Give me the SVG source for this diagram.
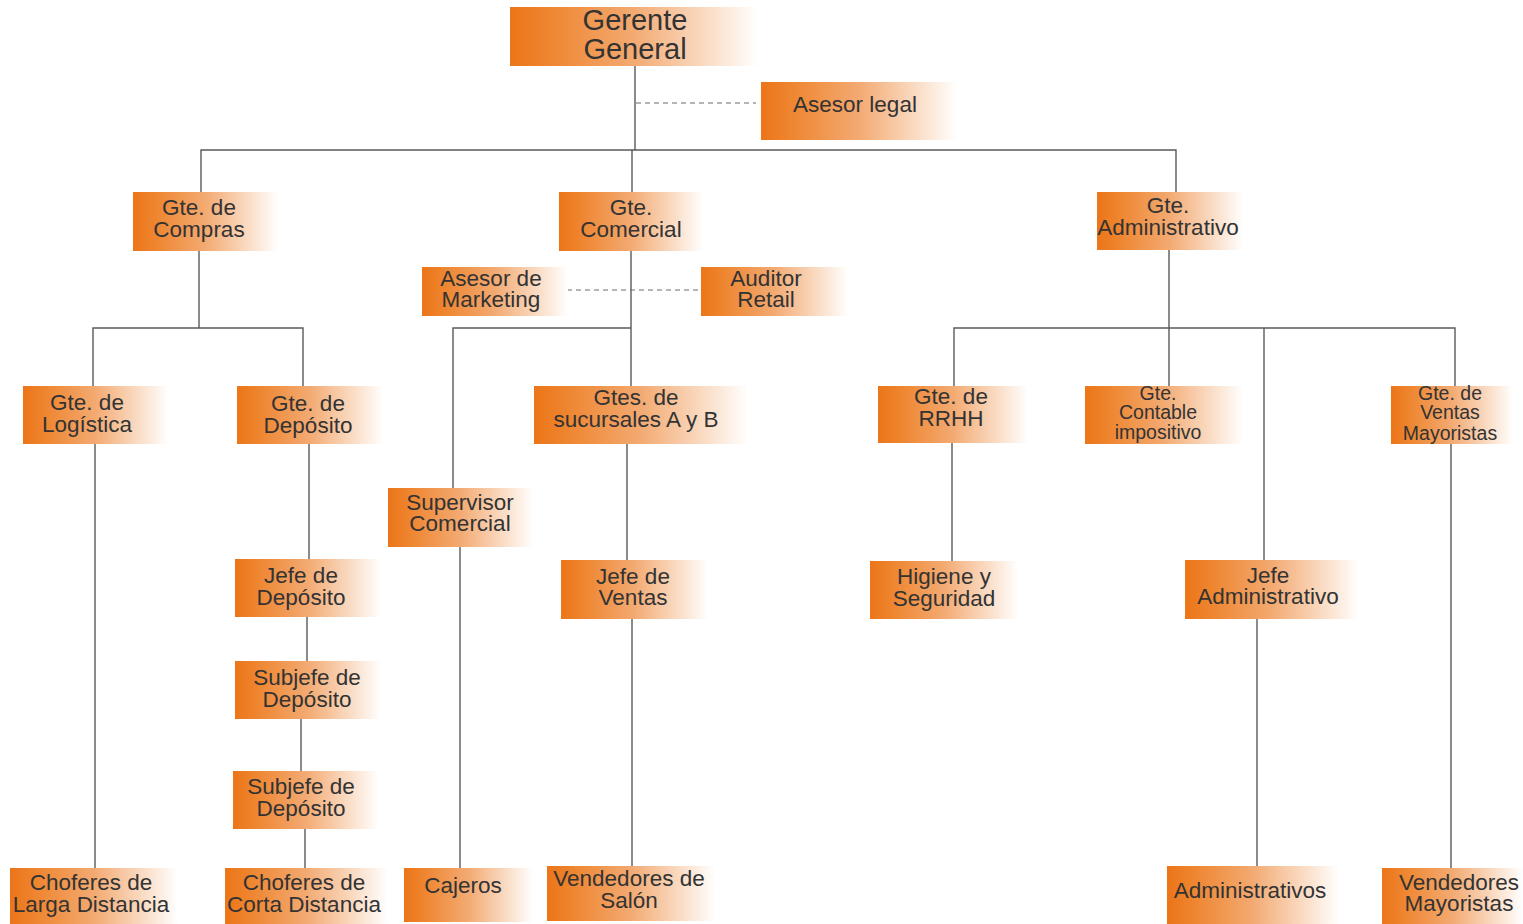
<svg xmlns="http://www.w3.org/2000/svg" width="1523" height="924" viewBox="0 0 1523 924">
  <defs>
    <linearGradient id="boxFill" x1="0" y1="0" x2="1" y2="0">
      <stop offset="0" stop-color="#EC7518"/>
      <stop offset="0.15" stop-color="#EE852F"/>
      <stop offset="0.5" stop-color="#F3AA72"/>
      <stop offset="0.8" stop-color="#FADDC6"/>
      <stop offset="1" stop-color="#FFFFFF"/>
    </linearGradient>
    <style>
      rect.box { fill: url(#boxFill); }
      text { font-family: "Liberation Sans", Arial, sans-serif; fill: #333333; text-anchor: middle; font-size: 22.5px; }
      text.big { font-size: 29px; }
      text.small { font-size: 19.5px; }
      .conn line, .conn polyline { stroke: #5a5a5a; stroke-width: 1.4; fill: none; }
      .conn .dash { stroke: #6a6a6a; stroke-width: 1.2; stroke-dasharray: 5 4; }
    </style>
  </defs>
  <rect width="1523" height="924" fill="#ffffff"/>

  <!-- connectors -->
  <g class="conn">
    <line x1="635" y1="66" x2="635" y2="150"/>
    <line class="dash" x1="636" y1="103" x2="756" y2="103"/>
    <polyline points="201,192 201,150 1176,150 1176,192"/>
    <line x1="632" y1="150" x2="632" y2="192"/>

    <!-- compras branch -->
    <line x1="199" y1="251" x2="199" y2="328"/>
    <polyline points="93,386 93,328 303,328 303,386"/>
    <line x1="95" y1="444" x2="95" y2="868"/>
    <line x1="309" y1="444" x2="309" y2="559"/>
    <line x1="307" y1="617" x2="307" y2="661"/>
    <line x1="301" y1="719" x2="301" y2="771"/>
    <line x1="305" y1="829" x2="305" y2="868"/>

    <!-- comercial branch -->
    <line x1="631" y1="251" x2="631" y2="386"/>
    <line class="dash" x1="567" y1="290" x2="700" y2="290"/>
    <polyline points="453,488 453,328 631,328"/>
    <line x1="460" y1="547" x2="460" y2="868"/>
    <line x1="627" y1="444" x2="627" y2="560"/>
    <line x1="632" y1="619" x2="632" y2="866"/>

    <!-- administrativo branch -->
    <line x1="1169" y1="250" x2="1169" y2="386"/>
    <polyline points="954,386 954,328 1455,328 1455,386"/>
    <line x1="1264" y1="328" x2="1264" y2="560"/>
    <line x1="952" y1="443" x2="952" y2="561"/>
    <line x1="1451" y1="444" x2="1451" y2="868"/>
    <line x1="1257" y1="619" x2="1257" y2="868"/>
  </g>

  <!-- nodes -->
  <g id="gerente-general">
    <rect class="box" x="510" y="7" width="248" height="59"/>
    <text class="big" x="635" y="30">Gerente</text>
    <text class="big" x="635" y="59">General</text>
  </g>
  <g id="asesor-legal">
    <rect class="box" x="761" y="82" width="196" height="58"/>
    <text x="855" y="112">Asesor legal</text>
  </g>

  <g id="gte-compras">
    <rect class="box" x="133" y="192" width="145" height="59"/>
    <text x="199" y="215">Gte. de</text>
    <text x="199" y="237">Compras</text>
  </g>
  <g id="gte-comercial">
    <rect class="box" x="559" y="192" width="144" height="59"/>
    <text x="631" y="215">Gte.</text>
    <text x="631" y="237">Comercial</text>
  </g>
  <g id="gte-administrativo">
    <rect class="box" x="1097" y="192" width="146" height="58"/>
    <text x="1168" y="213">Gte.</text>
    <text x="1168" y="235">Administrativo</text>
  </g>

  <g id="asesor-marketing">
    <rect class="box" x="422" y="267" width="146" height="49"/>
    <text x="491" y="286">Asesor de</text>
    <text x="491" y="307">Marketing</text>
  </g>
  <g id="auditor-retail">
    <rect class="box" x="701" y="267" width="147" height="49"/>
    <text x="766" y="286">Auditor</text>
    <text x="766" y="307">Retail</text>
  </g>

  <g id="gte-logistica">
    <rect class="box" x="23" y="386" width="145" height="58"/>
    <text x="87" y="410">Gte. de</text>
    <text x="87" y="432">Logística</text>
  </g>
  <g id="gte-deposito">
    <rect class="box" x="237" y="386" width="146" height="58"/>
    <text x="308" y="411">Gte. de</text>
    <text x="308" y="433">Depósito</text>
  </g>
  <g id="gtes-sucursales">
    <rect class="box" x="534" y="386" width="214" height="58"/>
    <text x="636" y="405">Gtes. de</text>
    <text x="636" y="427">sucursales A y B</text>
  </g>
  <g id="gte-rrhh">
    <rect class="box" x="878" y="386" width="150" height="57"/>
    <text x="951" y="404">Gte. de</text>
    <text x="951" y="426">RRHH</text>
  </g>
  <g id="gte-contable">
    <rect class="box" x="1085" y="386" width="158" height="58"/>
    <text class="small" x="1158" y="400">Gte.</text>
    <text class="small" x="1158" y="419">Contable</text>
    <text class="small" x="1158" y="439">impositivo</text>
  </g>
  <g id="gte-ventas-mayoristas">
    <rect class="box" x="1391" y="386" width="122" height="58"/>
    <text class="small" x="1450" y="400">Gte. de</text>
    <text class="small" x="1450" y="419">Ventas</text>
    <text class="small" x="1450" y="440">Mayoristas</text>
  </g>

  <g id="supervisor-comercial">
    <rect class="box" x="388" y="488" width="145" height="59"/>
    <text x="460" y="510">Supervisor</text>
    <text x="460" y="531">Comercial</text>
  </g>

  <g id="jefe-deposito">
    <rect class="box" x="235" y="559" width="146" height="58"/>
    <text x="301" y="583">Jefe de</text>
    <text x="301" y="605">Depósito</text>
  </g>
  <g id="jefe-ventas">
    <rect class="box" x="561" y="560" width="147" height="59"/>
    <text x="633" y="584">Jefe de</text>
    <text x="633" y="605">Ventas</text>
  </g>
  <g id="higiene-seguridad">
    <rect class="box" x="870" y="561" width="148" height="58"/>
    <text x="944" y="584">Higiene y</text>
    <text x="944" y="606">Seguridad</text>
  </g>
  <g id="jefe-administrativo">
    <rect class="box" x="1185" y="560" width="174" height="59"/>
    <text x="1268" y="583">Jefe</text>
    <text x="1268" y="604">Administrativo</text>
  </g>

  <g id="subjefe-deposito-1">
    <rect class="box" x="235" y="661" width="146" height="58"/>
    <text x="307" y="685">Subjefe de</text>
    <text x="307" y="707">Depósito</text>
  </g>
  <g id="subjefe-deposito-2">
    <rect class="box" x="233" y="771" width="145" height="58"/>
    <text x="301" y="794">Subjefe de</text>
    <text x="301" y="816">Depósito</text>
  </g>

  <g id="choferes-larga">
    <rect class="box" x="10" y="868" width="168" height="56"/>
    <text x="91" y="890">Choferes de</text>
    <text x="91" y="912">Larga Distancia</text>
  </g>
  <g id="choferes-corta">
    <rect class="box" x="225" y="868" width="163" height="56"/>
    <text x="304" y="890">Choferes de</text>
    <text x="304" y="912">Corta Distancia</text>
  </g>
  <g id="cajeros">
    <rect class="box" x="404" y="868" width="129" height="54"/>
    <text x="463" y="893">Cajeros</text>
  </g>
  <g id="vendedores-salon">
    <rect class="box" x="547" y="866" width="168" height="55"/>
    <text x="629" y="886">Vendedores de</text>
    <text x="629" y="908">Salón</text>
  </g>
  <g id="administrativos">
    <rect class="box" x="1167" y="866" width="172" height="58"/>
    <text x="1250" y="898">Administrativos</text>
  </g>
  <g id="vendedores-mayoristas">
    <rect class="box" x="1382" y="868" width="141" height="56"/>
    <text x="1459" y="890">Vendedores</text>
    <text x="1459" y="911">Mayoristas</text>
  </g>
</svg>
